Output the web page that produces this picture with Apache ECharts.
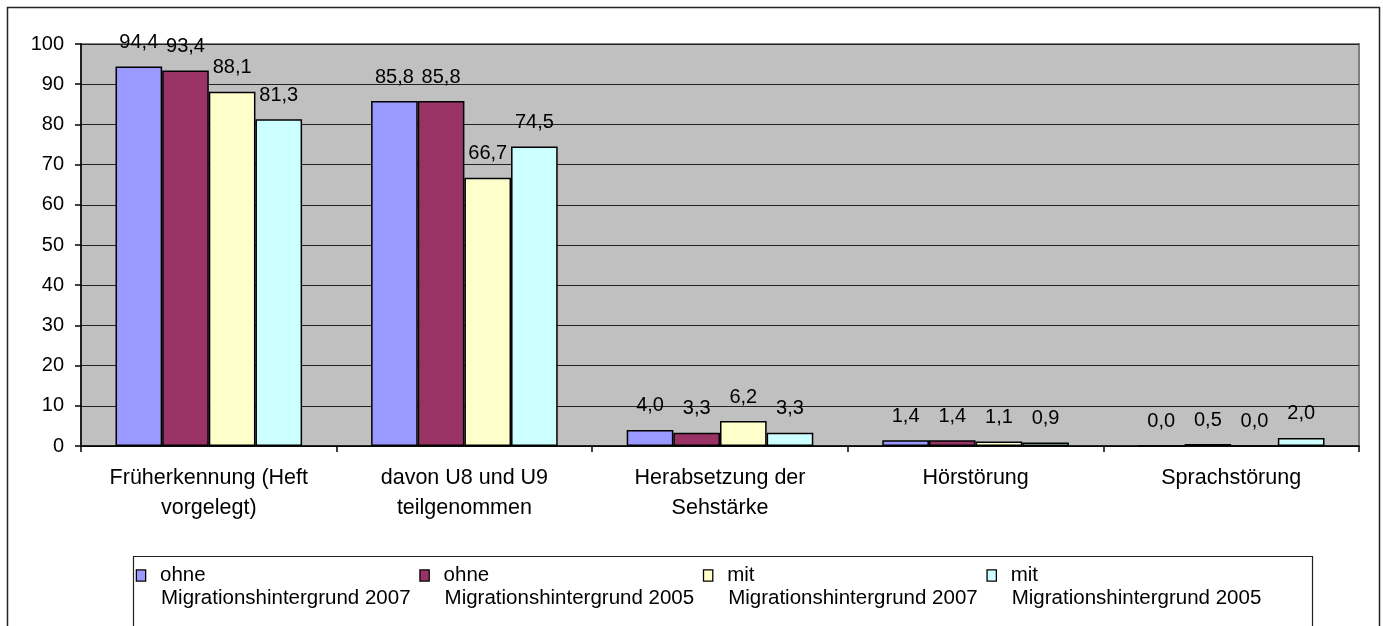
<!DOCTYPE html>
<html>
<head>
<meta charset="utf-8">
<script src="https://cdn.jsdelivr.net/npm/echarts@6/dist/echarts.min.js"></script>
<style>
html,body{margin:0;padding:0;background:#fff;}
#chart{width:1383px;height:626px;}
</style>
</head>
<body>
<div id="chart"></div>
<script>
const categories = [
  'Früherkennung (Heft\nvorgelegt)',
  'davon U8 und U9\nteilgenommen',
  'Herabsetzung der\nSehstärke',
  'Hörstörung',
  'Sprachstörung'
];
const seriesNames = [
  'ohne\nMigrationshintergrund 2007',
  'ohne\nMigrationshintergrund 2005',
  'mit\nMigrationshintergrund 2007',
  'mit\nMigrationshintergrund 2005'
];
const ohne2007 = [94.4, 85.8, 4.0, 1.4, 0.0];
const ohne2005 = [93.4, 85.8, 3.3, 1.4, 0.5];
const mit2007 = [88.1, 66.7, 6.2, 1.1, 0.0];
const mit2005 = [81.3, 74.5, 3.3, 0.9, 2.0];
const colors = ['#9999FF', '#993366', '#FFFFCC', '#CCFFFF'];
const yTicks = {min: 0, max: 100, interval: 10};

const FONT = '"Liberation Sans", Arial, sans-serif';
const seriesData = [ohne2007, ohne2005, mit2007, mit2005];

const legendRich = {
  t: {fontFamily: FONT, fontSize: 20.5, color: '#000', lineHeight: 23, padding: [0, 0, 0, 15]},
  u: {fontFamily: FONT, fontSize: 20.5, color: '#000', lineHeight: 23, padding: [0, 0, 0, 24]}
};
colors.forEach((c, i) => {
  legendRich['s' + i] = {width: 8, height: 10, backgroundColor: c, borderColor: '#000', borderWidth: 1.3};
});

const chart = echarts.init(document.getElementById('chart'), null, {renderer: 'canvas'});
chart.setOption({
  animation: false,
  backgroundColor: '#ffffff',
  textStyle: {fontFamily: FONT},
  graphic: [
    {type: 'rect', left: 5, top: 5, shape: {x: 0, y: 0, width: 1372, height: 700},
     style: {fill: 'none', stroke: '#222', lineWidth: 1.5}, silent: true, z: -1},
    {type: 'rect', left: 131, top: 554, shape: {x: 0, y: 0, width: 1179, height: 70},
     style: {fill: 'none', stroke: '#222', lineWidth: 1.2}, silent: true, z: -1}
  ],
  grid: {
    left: 81, right: 24, top: 44, bottom: 180,
    show: true, backgroundColor: '#c0c0c0', borderColor: '#808080', borderWidth: 2
  },
  legend: {
    left: 132, top: 565,
    padding: 0,
    icon: 'none',
    itemWidth: 0, itemHeight: 11, itemGap: 5,
    textStyle: {fontFamily: FONT, fontSize: 20.5, color: '#000', rich: legendRich},
    formatter: name => {
      const i = seriesNames.indexOf(name);
      const parts = name.split('\n');
      return '{s' + i + '|}{t|' + parts[0] + '}\n{u|' + parts[1] + '}';
    },
    data: seriesNames
  },
  xAxis: {
    type: 'category',
    data: categories,
    axisLine: {lineStyle: {color: '#000', width: 1.5}},
    axisTick: {show: true, length: 6, lineStyle: {color: '#000', width: 1.5}},
    axisLabel: {color: '#000', fontFamily: FONT, fontSize: 21.5, lineHeight: 30, margin: 17, interval: 0},
    splitLine: {show: false}
  },
  yAxis: {
    type: 'value',
    min: yTicks.min, max: yTicks.max, interval: yTicks.interval,
    axisLine: {show: true, lineStyle: {color: '#000', width: 1.5}},
    axisTick: {show: true, length: 6, lineStyle: {color: '#000', width: 1.5}},
    axisLabel: {color: '#000', fontFamily: FONT, fontSize: 20, margin: 17},
    splitLine: {show: true, lineStyle: {color: '#222', width: 1.2}}
  },
  series: seriesNames.map((name, i) => ({
    name: name,
    type: 'bar',
    data: seriesData[i],
    barGap: '0%',
    barCategoryGap: '27%',
    itemStyle: {color: colors[i], borderColor: '#000', borderWidth: 1.5},
    label: {
      show: true, position: 'top', distance: 14,
      color: '#000', fontFamily: FONT, fontSize: 20,
      formatter: p => p.value.toFixed(1).replace('.', ',')
    }
  }))
});
</script>
</body>
</html>
